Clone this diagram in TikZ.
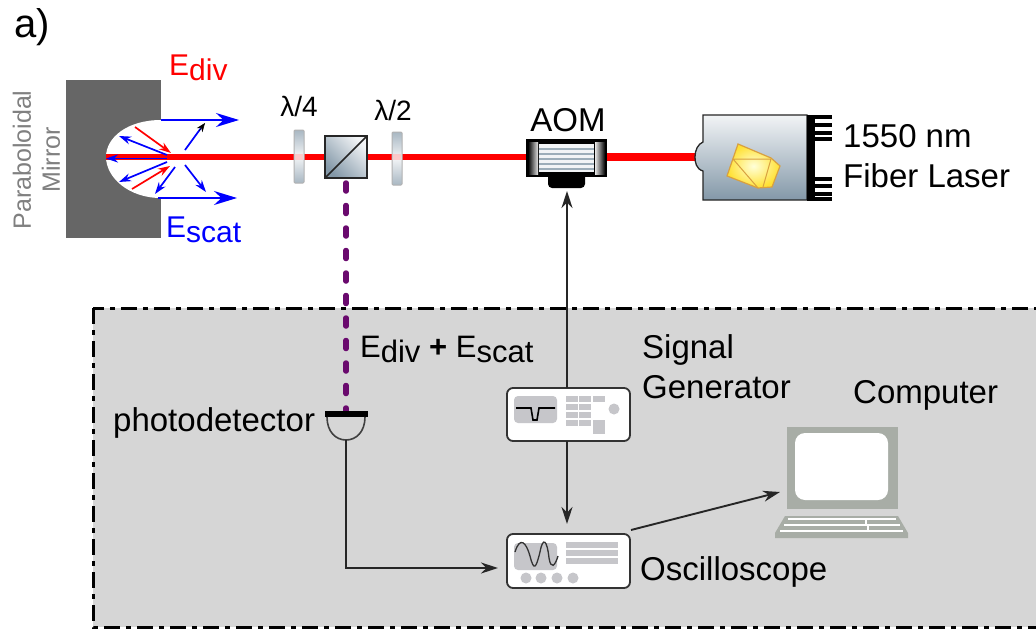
\documentclass[tikz,border=0pt]{standalone}
\usepackage{fontspec}
\setmainfont{Liberation Sans}
\usetikzlibrary{arrows.meta,calc}
\definecolor{boxgray}{HTML}{D6D6D6}
\definecolor{mirrorgray}{HTML}{666666}
\definecolor{purp}{HTML}{6A0A6E}
\definecolor{lightg}{HTML}{C6C6CA}
\definecolor{compg}{HTML}{A8ADA6}
\definecolor{slate}{HTML}{8398A8}
\definecolor{pale}{HTML}{F2F4F6}
\definecolor{tan}{HTML}{D8A040}
\tikzset{
  txt/.style={inner sep=0pt,font=\fontsize{33}{33}\selectfont,text=black},
  txtsm/.style={inner sep=0pt,font=\fontsize{28}{28}\selectfont},
  wire/.style={draw=black!85,line width=1.9pt,-{Stealth[length=17pt,width=11pt]}},
  small/.style={line width=1.7pt,-{Stealth[length=12pt,width=8pt]}},
  big/.style={blue,line width=1.6pt,-{Stealth[length=23pt,width=14pt]}},
  plate/.style={draw=black!30,line width=1pt,rounded corners=1pt,top color=slate!70,bottom color=slate!70,middle color=pale},
  device/.style={draw=black!80,fill=white,line width=1.8pt,rounded corners=6pt},
  lg/.style={fill=lightg,draw=none},
  mlab/.style={inner sep=0pt,rotate=90,text=gray,font=\fontsize{25}{25}\selectfont},
}
\begin{document}
\begin{tikzpicture}[x=1pt,y=-1pt]
\useasboundingbox (0,0) rectangle (1036,629);
\clip (0,0) rectangle (1036,629);
\fill[white] (0,0) rectangle (1036,629);
% gray box
\draw[fill=boxgray,line width=3pt,dash pattern=on 16pt off 6pt on 5pt off 6pt] (93,308) rectangle (1050,627);
\node[inner sep=0pt,anchor=base west,font=\fontsize{40}{40}\selectfont] (lbla) at (14,37) {a)};
% mirror
\fill[mirrorgray] (66,80) rectangle (161,238);
\fill[white] (161,120) .. controls (128,120) and (106,137) .. (106,157) .. controls (106,177) and (128,198) .. (161,198) -- (180,198) -- (180,120) -- cycle;
\node[mlab] (parab) at (22,160) {Paraboloidal};
\node[mlab] (mirr) at (51,160) {Mirror};
% beam
\coordinate (beamL) at (106,157);
\coordinate (aomL) at (527,157);
\coordinate (aomR) at (606,157);
\coordinate (lasL) at (697,157);
\draw[red,line width=6.5pt] (beamL) -- (aomL);
\draw[red,line width=8pt] (aomR) -- (lasL);
% small arrows
\draw[big] (161,120) -- (239,120);
\draw[big] (158,198) -- (237,198);
\draw[blue,small] (167,158.5) -- (106,158.5);
\draw[red,small] (135,127) -- (171,153);
\draw[red,small] (132,189) -- (170,166);
\draw[blue,small] (167,155) -- (119,136);
\draw[blue,small] (167,162) -- (119,182);
\draw[blue,small] (175,167) -- (155,194);
\draw[blue,line width=1.7pt] (185,150) -- (201,128);
\draw[black,-{Stealth[length=9pt,width=7pt]},line width=0.5pt] (199,131) -- (205,123);
\draw[blue,small] (185,165) -- (206,192);
% colored labels
\node[inner sep=0pt,anchor=base west,text=red] (ediv) at (169,75) {\fontsize{30}{30}\selectfont E\raisebox{-5pt}{div}};
\node[inner sep=0pt,anchor=base west,text=blue] (escat) at (166,237) {\fontsize{30}{30}\selectfont E\raisebox{-5pt}{scat}};
% plates
\node[txtsm] (l4) at (299,106) {λ/4};
\node[txtsm] (l2) at (393,110) {λ/2};
\path[plate] (294,130) rectangle (304,183);
\path[plate] (392,132) rectangle (402,185);
\fill[red!25,opacity=0.8] (295,154) rectangle (303,160);
\fill[red!25,opacity=0.8] (393,154) rectangle (401,160);
\draw[line width=1.5pt,black!85,left color=slate,right color=pale,shading angle=135] (325,136) rectangle (367,178);
\draw[line width=1.5pt,black!85] (325,178) -- (367,136);
% purple path
\coordinate (cubeB) at (346,183);
\coordinate (pdTop) at (346,412);
\draw[purp,line width=5.5pt,line cap=round,dash pattern=on 8pt off 14.5pt] (cubeB) -- (pdTop);
% AOM
\node[txt,anchor=center] (aomlab) at (568,120) {AOM};
\fill[black,rounded corners=4pt] (548,172) -- (585,172) -- (585,188) -- (548,188) -- cycle;
\draw[line width=1.4pt,fill=black] (527,140) rectangle (606,176);
\shade[left color=black,right color=white!80!gray] (528,142) rectangle (538,174);
\shade[left color=white!80!gray,right color=black] (595,142) rectangle (605,174);
\fill[pale] (539,144) rectangle (594,172);
\foreach \y in {149,154,159,164,169} \draw[slate!80,line width=1.4pt] (539,\y) -- (594,\y);
% laser
\draw[line width=1.3pt,black!85,top color=pale,bottom color=slate] (703,115) -- (807,115) -- (807,200) -- (703,200) -- (703,171) .. controls (696,169) and (695,162) .. (695,157) .. controls (695,150) and (698,144) .. (703,142) -- cycle;
\fill[black] (807,115) rectangle (815,200);
\foreach \y in {115,123,131,137,177,184,192,197} \fill[black] (807,\y) rectangle (832,\y+3.5);
\path[draw=tan,line width=1.2pt,inner color=white!85!yellow,outer color=yellow!70!orange!80!white] (738,144) -- (771,158) -- (780,166) -- (772,187) -- (758,188) -- (727,176) -- cycle;
\draw[tan,line width=1pt] (733,159) -- (771,159) (733,159) -- (758,188) (771,159) -- (763,187);
\node[txt,anchor=base west] (l1) at (843,147) {1550 nm};
\node[txt,anchor=base west] (l2b) at (843,187) {Fiber Laser};
% photodetector
\fill[black] (325,411) rectangle (368,417);
\draw[line width=1.6pt,black!75] (327,417) .. controls (327,432) and (336,440) .. (346,440) .. controls (356,440) and (365,432) .. (365,417);
\node[txt,anchor=base west] (pd) at (113,431) {photodetector};
\coordinate (pdB) at (346,440);
% generator
\node[device,minimum width=123pt,minimum height=53pt] (gen) at (568.5,414.5) {};
\fill[lg,rounded corners=4pt] (514,396) rectangle (557,423);
\draw[black,line width=1.6pt] (516,408) -- (531,408) -- (533,420) -- (537,420) -- (539,408) -- (555,408);
\foreach \x/\y in {566/396,579/396,593/396,566/404,579/404,566/412,579/412,566/420,579/420} \fill[lightg] (\x,\y) rectangle (\x+12,\y+6);
\fill[lightg] (593,420) rectangle (605,434);
\fill[lightg] (614,409) circle (5.5);
% oscilloscope
\node[device,minimum width=123pt,minimum height=54pt] (osc) at (568.5,561) {};
\fill[lightg,rounded corners=4pt] (514,543) rectangle (557,570);
\draw[black!80,line width=1.3pt] (515,552) .. controls (520,536) and (526,542) .. (530,556) .. controls (534,572) and (536,568) .. (540,552) .. controls (543,536) and (547,540) .. (549,558) .. controls (551,570) and (555,566) .. (558,556);
\foreach \y in {542,550,558} \fill[lightg] (566,\y) rectangle (618,\y+6);
\foreach \x in {526,541,557,573} \fill[lightg] (\x,578) circle (5.5);
\node[txt,anchor=base west] (osclab) at (640,580) {Oscilloscope};
\node[txt,anchor=base west] (sg1) at (642,358) {Signal};
\node[txt,anchor=base west] (sg2) at (642,398) {Generator};
\node[txt,anchor=base west] (complab) at (853,403) {Computer};
% computer
\fill[compg] (787,427) rectangle (898,509);
\fill[white,rounded corners=10pt] (795,433) rectangle (888,500);
\fill[compg] (785,516) -- (898,516) -- (908,533) -- (908,538) -- (775,538) -- (775,533) -- cycle;
\draw[white,line width=1.2pt] (788,519) -- (896,519) (784,525) -- (900,525) (780,531) -- (903,531) (866,519) -- (866,525) (868,525) -- (868,531);
\coordinate (compL) at (780,492);
% wires
\coordinate (aomB) at (567,191);
\coordinate (genT) at (567,388);
\coordinate (genB) at (567,441);
\coordinate (oscT) at (567,524);
\coordinate (oscL) at (498,568);
\coordinate (oscC) at (631,530);
\draw[wire] (genT) -- (aomB);
\draw[wire] (genB) -- (oscT);
\draw[wire] (pdB) |- (oscL);
\draw[wire] (oscC) -- (compL);
% sum
\node[inner sep=0pt,anchor=base west,text=black] (sum) at (360,357) {\fontsize{31}{31}\selectfont E\raisebox{-5pt}{div} \textbf{+} E\raisebox{-5pt}{scat}};
\end{tikzpicture}
\end{document}
